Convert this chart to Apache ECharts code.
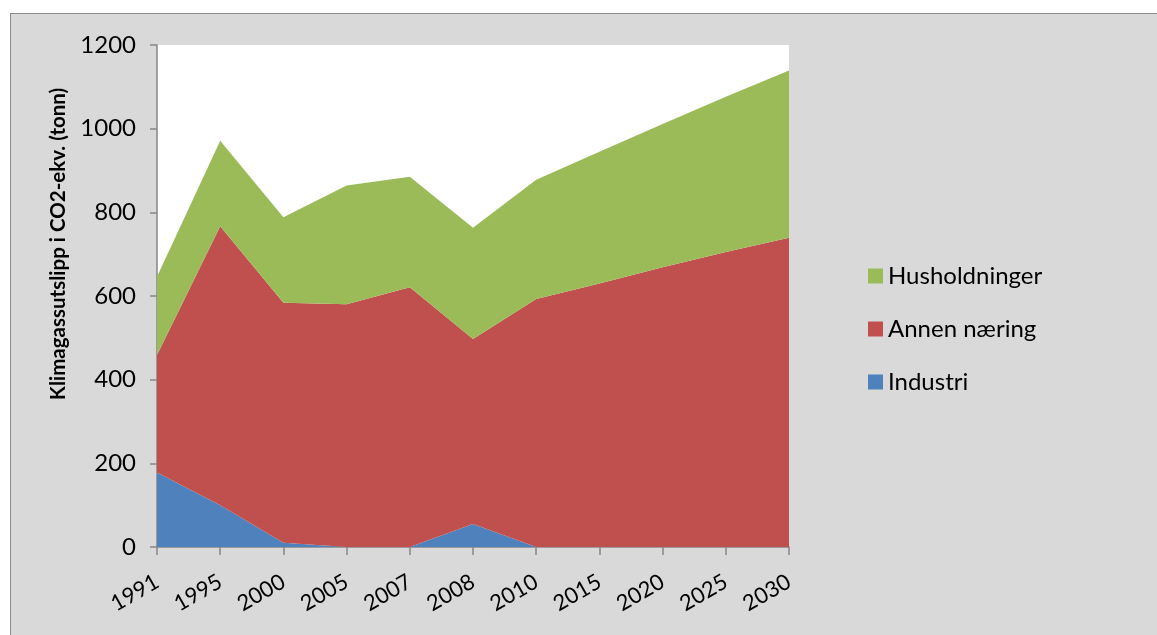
<!DOCTYPE html>
<html>
<head>
<meta charset="utf-8">
<script src="https://cdn.jsdelivr.net/npm/echarts@6/dist/echarts.min.js"></script>
<style>
  html, body { margin: 0; padding: 0; background: #fff; }
  #panel { position: absolute; left: 10px; top: 13px; width: 1147px; height: 622px;
           background: #d9d9d9; border-left: 1px solid #8c8c8c; border-top: 1px solid #8c8c8c; }
  #chart { position: absolute; left: 0; top: 0; width: 1157px; height: 635px; }
</style>
</head>
<body>
<div id="panel"></div>
<div id="chart"></div>
<script>
// kategorier (år)
var years = ["1991", "1995", "2000", "2005", "2007", "2008", "2010", "2015", "2020", "2025", "2030"];
// utslipp per sektor (tonn CO2-ekv.)
var industri = [178, 100, 10, 0, 0, 55, 0, 0, 0, 0, 0];
var annenNaering = [281, 667, 574, 580, 621, 442, 593, 630, 669, 705, 739];
var husholdninger = [187, 204, 204, 284, 264, 266, 285, 315, 342, 371, 400];
var yTicks = [0, 200, 400, 600, 800, 1000, 1200];

var myChart = echarts.init(document.getElementById("chart"));
var font = "Lato, 'Open Sans', sans-serif";

function areaSeries(name, data, color) {
  return {
    name: name,
    type: "line",
    stack: "total",
    data: data,
    symbol: "none",
    lineStyle: { width: 0 },
    areaStyle: { color: color, opacity: 1 },
    itemStyle: { color: color }
  };
}

var option = {
  animation: false,
  backgroundColor: "transparent",
  textStyle: { fontFamily: font },
  grid: {
    left: 157,
    right: 368,
    top: 45,
    bottom: 88,
    show: true,
    backgroundColor: "#fff",
    borderWidth: 0
  },
  legend: {
    orient: "vertical",
    left: 863,
    top: 259,
    itemWidth: 15,
    itemHeight: 15,
    itemGap: 29,
    icon: "rect",
    data: ["Husholdninger", "Annen næring", "Industri"],
    textStyle: { fontFamily: font, fontSize: 24, lineHeight: 24, color: "#000" }
  },
  xAxis: {
    type: "category",
    data: years,
    boundaryGap: false,
    axisLine: { lineStyle: { color: "#868686", width: 1.5 } },
    axisTick: { show: true, length: 8, lineStyle: { color: "#868686", width: 1.5 } },
    axisLabel: { rotate: 30, fontSize: 22, color: "#000", margin: 33, fontFamily: font },
    splitLine: { show: false }
  },
  yAxis: {
    type: "value",
    min: 0,
    max: 1200,
    interval: 200,
    axisLine: { show: true, lineStyle: { color: "#868686", width: 1.5 } },
    axisTick: { show: true, length: 7, lineStyle: { color: "#868686", width: 1.5 } },
    axisLabel: {
      fontSize: 24, color: "#000", margin: 21, fontFamily: font,
      formatter: function (v) { return yTicks.indexOf(v) >= 0 ? String(v) : ""; }
    },
    splitLine: { show: false }
  },
  graphic: [{
    type: "text",
    x: 58,
    y: 244,
    rotation: Math.PI / 2,
    style: {
      text: "Klimagassutslipp i CO2-ekv. (tonn)",
      fontFamily: font,
      fontSize: 20.5,
      fontWeight: "bold",
      fill: "#000",
      align: "center",
      verticalAlign: "middle"
    }
  }],
  series: [
    areaSeries("Industri", industri, "#4f81bd"),
    areaSeries("Annen næring", annenNaering, "#c0504d"),
    areaSeries("Husholdninger", husholdninger, "#9bbb59")
  ]
};
myChart.setOption(option);
</script>
</body>
</html>
